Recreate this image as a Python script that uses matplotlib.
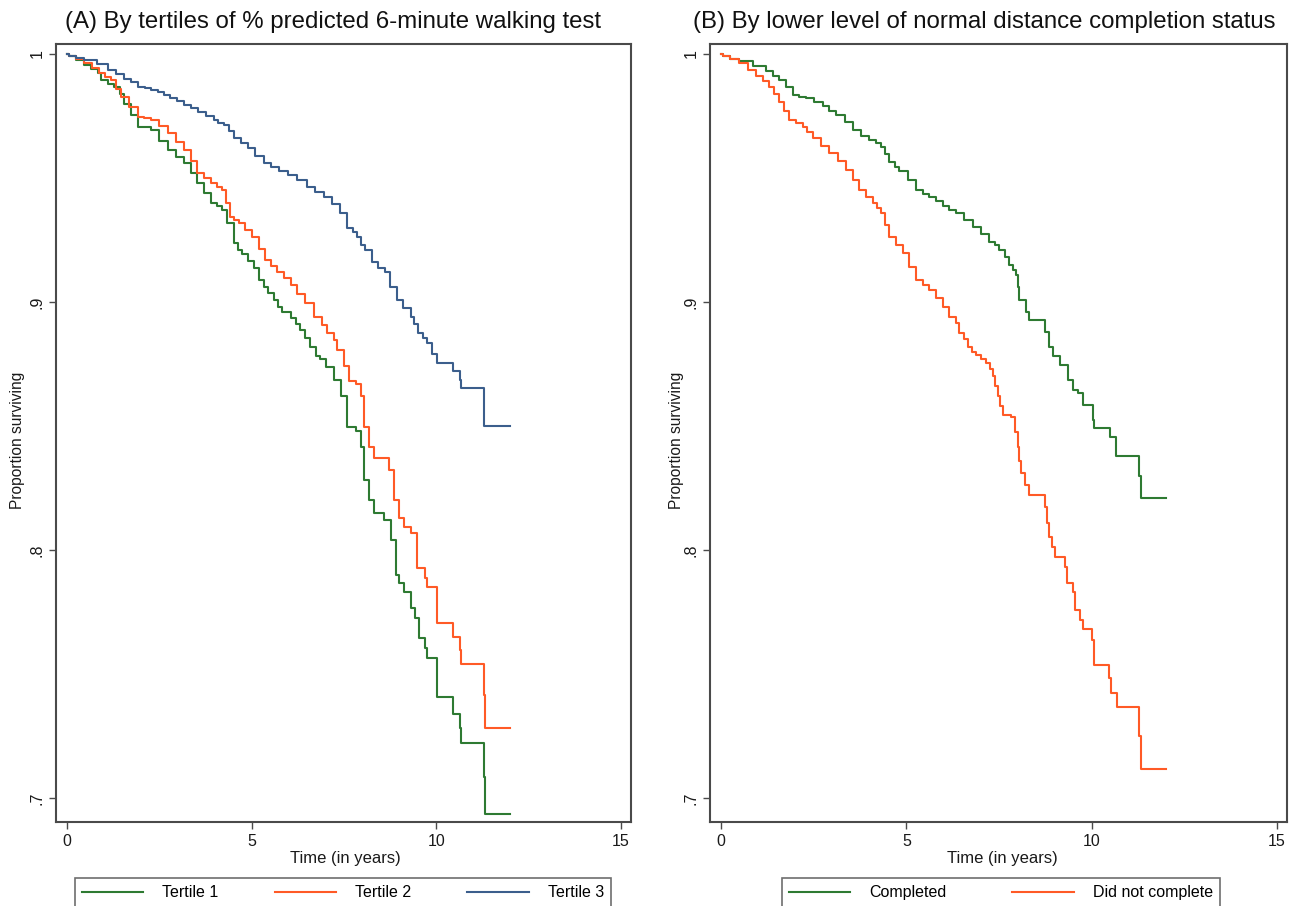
import matplotlib
matplotlib.use("Agg")
import matplotlib.pyplot as plt

plt.rcParams['font.family'] = ['Liberation Sans', 'DejaVu Sans']

# ---------------- data ----------------
titles = ["(A) By tertiles of % predicted 6-minute walking test",
          "(B) By lower level of normal distance completion status"]
x_label = "Time (in years)"
y_label = "Proportion surviving"
x_ticks = [0, 5, 10, 15]
y_ticks = [0.7, 0.8, 0.9, 1.0]
y_tick_labels = [".7", ".8", ".9", "1"]

labels_a = ["Tertile 1", "Tertile 2", "Tertile 3"]
labels_b = ["Completed", "Did not complete"]

t_tert1 = [0, 0.06, 0.25, 0.47, 0.65, 0.83, 0.92, 1.1, 1.28, 1.42, 1.55, 1.73,
           1.91, 2.27, 2.5, 2.72, 2.95, 3.17, 3.35, 3.53, 3.7, 3.89, 4.05, 4.2,
           4.34, 4.52, 4.63, 4.75, 4.9, 5.05, 5.2, 5.33, 5.45, 5.6, 5.72, 5.83,
           6.05, 6.2, 6.32, 6.45, 6.59, 6.73, 6.86, 7.0, 7.22, 7.41, 7.59, 7.81,
           7.95, 8.04, 8.17, 8.3, 8.58, 8.76, 8.92, 9.0, 9.12, 9.3, 9.43, 9.52,
           9.7, 9.75, 10.02, 10.03, 10.46, 10.65, 10.66, 11.28, 11.33, 12.0]
s_tert1 = [1, 0.999, 0.9975, 0.9956, 0.994, 0.9923, 0.9895, 0.988, 0.9868, 0.984,
           0.980, 0.9755, 0.9707, 0.9694, 0.965, 0.9613, 0.9585, 0.956, 0.952,
           0.948, 0.944, 0.940, 0.9385, 0.937, 0.932, 0.9237, 0.921, 0.9195,
           0.9165, 0.9135, 0.909, 0.906, 0.9035, 0.9008, 0.898, 0.896, 0.8935,
           0.891, 0.8887, 0.8855, 0.882, 0.878, 0.877, 0.8739, 0.8685, 0.862,
           0.8497, 0.848, 0.8417, 0.8282, 0.820, 0.815, 0.812, 0.804, 0.790,
           0.7867, 0.783, 0.7766, 0.7725, 0.7645, 0.7605, 0.7565, 0.7456, 0.7407,
           0.734, 0.7282, 0.7222, 0.7086, 0.6935, 0.6935]

t_tert2 = [0, 0.06, 0.25, 0.47, 0.67, 0.87, 1.03, 1.19, 1.33, 1.46, 1.68, 1.91,
           2.08, 2.27, 2.5, 2.72, 2.95, 3.17, 3.35, 3.53, 3.7, 3.89, 4.05, 4.2,
           4.3, 4.4, 4.52, 4.65, 4.82, 5.0, 5.2, 5.37, 5.53, 5.69, 5.87, 6.05,
           6.23, 6.45, 6.68, 6.9, 7.05, 7.23, 7.32, 7.5, 7.63, 7.81, 7.95, 8.04,
           8.17, 8.3, 8.58, 8.72, 8.85, 8.98, 9.12, 9.3, 9.48, 9.7, 9.75, 10.02,
           10.03, 10.46, 10.65, 10.66, 11.28, 11.33, 12.0]
s_tert2 = [1, 0.999, 0.9978, 0.9962, 0.9942, 0.9922, 0.9905, 0.9895, 0.986,
           0.9828, 0.9785, 0.9747, 0.974, 0.9734, 0.971, 0.968, 0.9645, 0.9613,
           0.957, 0.952, 0.950, 0.948, 0.9465, 0.945, 0.940, 0.9344, 0.933,
           0.9317, 0.929, 0.9263, 0.9215, 0.917, 0.9145, 0.912, 0.9095, 0.9068,
           0.903, 0.8995, 0.894, 0.8905, 0.8874, 0.8847, 0.8806, 0.874, 0.868,
           0.867, 0.862, 0.8497, 0.8417, 0.837, 0.837, 0.8323, 0.820, 0.8128,
           0.8094, 0.8067, 0.7926, 0.7886, 0.785, 0.7758, 0.7707, 0.765, 0.7597,
           0.754, 0.7415, 0.7281, 0.7281]

t_tert3 = [0, 0.06, 0.25, 0.47, 0.8, 1.1, 1.33, 1.55, 1.73, 1.91, 2.1, 2.27,
           2.45, 2.63, 2.8, 2.99, 3.17, 3.35, 3.55, 3.75, 3.97, 4.1, 4.24, 4.38,
           4.51, 4.7, 4.89, 5.1, 5.32, 5.52, 5.75, 5.97, 6.22, 6.5, 6.72, 6.95,
           7.17, 7.4, 7.59, 7.73, 7.86, 7.97, 8.08, 8.27, 8.43, 8.6, 8.75, 8.93,
           9.1, 9.3, 9.4, 9.51, 9.63, 9.75, 9.88, 10.02, 10.46, 10.65, 10.66,
           11.28, 11.3, 12.0]
s_tert3 = [1, 0.9993, 0.9985, 0.9976, 0.9958, 0.9935, 0.9918, 0.990, 0.9885,
           0.9868, 0.9862, 0.9855, 0.9845, 0.9835, 0.9822, 0.981, 0.9795, 0.978,
           0.9765, 0.975, 0.9734, 0.9723, 0.9713, 0.969, 0.966, 0.964, 0.962,
           0.959, 0.956, 0.9545, 0.9528, 0.951, 0.949, 0.9465, 0.9445, 0.9425,
           0.9395, 0.936, 0.930, 0.928, 0.926, 0.923, 0.921, 0.916, 0.9135,
           0.912, 0.906, 0.9008, 0.8975, 0.894, 0.891, 0.8875, 0.8855, 0.8834,
           0.879, 0.8754, 0.872, 0.8686, 0.8653, 0.858, 0.85, 0.85]

t_comp = [0, 0.04, 0.25, 0.49, 0.85, 1.21, 1.4, 1.57, 1.75, 1.93, 2.1, 2.29, 2.5,
          2.74, 2.92, 3.1, 3.33, 3.55, 3.78, 4.0, 4.17, 4.32, 4.43, 4.54, 4.68,
          4.81, 5.03, 5.26, 5.45, 5.62, 5.8, 5.98, 6.16, 6.34, 6.56, 6.79, 7.0,
          7.24, 7.38, 7.51, 7.65, 7.78, 7.88, 7.97, 8.01, 8.05, 8.23, 8.32, 8.73,
          8.86, 8.95, 9.14, 9.36, 9.49, 9.63, 9.76, 10.04, 10.05, 10.49, 10.65,
          10.66, 11.28, 11.34, 12.0]
s_comp = [1, 0.999, 0.998, 0.9973, 0.995, 0.993, 0.991, 0.9895, 0.9865, 0.9835,
          0.9828, 0.9821, 0.9805, 0.9788, 0.977, 0.9754, 0.9725, 0.9694, 0.967,
          0.9653, 0.964, 0.9626, 0.9595, 0.9566, 0.9545, 0.9526, 0.949, 0.945,
          0.9435, 0.9425, 0.9405, 0.9385, 0.937, 0.9358, 0.933, 0.9304, 0.9275,
          0.9243, 0.9228, 0.921, 0.918, 0.915, 0.913, 0.911, 0.906, 0.9008,
          0.8961, 0.8927, 0.888, 0.882, 0.878, 0.8746, 0.8686, 0.8645, 0.8632,
          0.8585, 0.8524, 0.849, 0.8457, 0.8417, 0.838, 0.830, 0.8211, 0.8211]

t_notc = [0, 0.04, 0.25, 0.49, 0.72, 0.94, 1.12, 1.3, 1.44, 1.57, 1.7, 1.84,
          2.02, 2.2, 2.33, 2.47, 2.7, 2.92, 3.15, 3.37, 3.55, 3.73, 3.91, 4.09,
          4.2, 4.32, 4.43, 4.54, 4.72, 4.9, 5.08, 5.26, 5.44, 5.62, 5.8, 5.98,
          6.16, 6.34, 6.43, 6.55, 6.66, 6.77, 6.88, 7.0, 7.15, 7.25, 7.33, 7.4,
          7.47, 7.53, 7.6, 7.83, 7.92, 8.01, 8.05, 8.1, 8.2, 8.32, 8.73, 8.8,
          8.86, 8.93, 9.0, 9.27, 9.32, 9.5, 9.54, 9.68, 9.76, 10.02, 10.05,
          10.47, 10.53, 10.67, 11.28, 11.34, 12.0]
s_notc = [1, 0.999, 0.9978, 0.9962, 0.9935, 0.9909, 0.989, 0.9868, 0.984, 0.9808,
          0.977, 0.9734, 0.972, 0.9707, 0.9685, 0.966, 0.963, 0.96, 0.9568,
          0.9532, 0.9492, 0.9452, 0.9425, 0.9398, 0.938, 0.9358, 0.931, 0.9263,
          0.923, 0.9196, 0.914, 0.9089, 0.907, 0.9048, 0.9015, 0.8981, 0.894,
          0.8914, 0.8874, 0.885, 0.882, 0.880, 0.8786, 0.877, 0.8753, 0.873,
          0.870, 0.866, 0.862, 0.858, 0.8544, 0.8538, 0.8477, 0.8417, 0.836,
          0.831, 0.826, 0.8222, 0.8175, 0.811, 0.8054, 0.801, 0.7973, 0.7933,
          0.7866, 0.7832, 0.7758, 0.7718, 0.768, 0.7637, 0.7536, 0.7483, 0.7425,
          0.7368, 0.7248, 0.7116, 0.7116]

GREEN = "#2e7a32"
ORANGE = "#ff5a26"
BLUE = "#3b5e8c"
FRAME = "#4a4a4a"

W, H = 1301, 906
fig = plt.figure(figsize=(W / 100, H / 100), dpi=100)
fig.patch.set_facecolor("white")


def fx(px):
    return px / W


def fy(py):
    return 1 - py / H


ax_a = fig.add_axes([fx(56), fy(822), fx(631) - fx(56), fy(44) - fy(822)])
ax_b = fig.add_axes([fx(710), fy(822), fx(1287) - fx(710), fy(44) - fy(822)])

series_a = [(t_tert1, s_tert1, GREEN, labels_a[0]),
            (t_tert2, s_tert2, ORANGE, labels_a[1]),
            (t_tert3, s_tert3, BLUE, labels_a[2])]
series_b = [(t_comp, s_comp, GREEN, labels_b[0]),
            (t_notc, s_notc, ORANGE, labels_b[1])]

FS = 11.5
for ax, series in [(ax_a, series_a), (ax_b, series_b)]:
    for t, s, c, lab in series:
        ax.plot(t, s, drawstyle="steps-post", color=c, lw=1.5, label=lab)
    ax.set_xlim(-0.3, 15.27)
    ax.set_ylim(0.6903, 1.004)
    ax.set_xticks(x_ticks)
    ax.set_xticklabels([str(v) for v in x_ticks])
    ax.set_yticks(y_ticks)
    ax.set_yticklabels(y_tick_labels, rotation=90, va="center")
    ax.tick_params(axis="both", direction="out", length=5, width=1.0,
                   color=FRAME, labelsize=FS, labelcolor="#1a1a1a")
    ax.tick_params(axis="x", pad=4)
    ax.tick_params(axis="y", pad=3)
    for sp in ax.spines.values():
        sp.set_color(FRAME)
        sp.set_linewidth(1.5)

# titles and axis labels
TFS = 17.3
fig.text(fx(333), fy(22), titles[0], ha="center", va="center", fontsize=TFS, color="#111111")
fig.text(fx(984), fy(22), titles[1], ha="center", va="center", fontsize=TFS, color="#111111")
fig.text(fx(345), fy(858), x_label, ha="center", va="center", fontsize=12, color="#1a1a1a")
fig.text(fx(1002), fy(858), x_label, ha="center", va="center", fontsize=12, color="#1a1a1a")
fig.text(fx(18), fy(440), y_label, ha="center", va="center", rotation=90, fontsize=11.2, color="#1a1a1a")
fig.text(fx(676), fy(440), y_label, ha="center", va="center", rotation=90, fontsize=11.2, color="#1a1a1a")

# legends
for ax, cx, colsp in [(ax_a, 343, 3.5), (ax_b, 1001, 4.1)]:
    h, l = ax.get_legend_handles_labels()
    leg = fig.legend(h, l, loc="upper center", bbox_to_anchor=(fx(cx), fy(878)),
                     ncol=len(l), frameon=True, fancybox=False, fontsize=FS,
                     handlelength=3.85, handletextpad=1.2, columnspacing=colsp,
                     borderpad=0.45, borderaxespad=0)
    leg.get_frame().set_edgecolor(FRAME)
    leg.get_frame().set_linewidth(1.2)
    for line in leg.get_lines():
        line.set_linewidth(1.5)

fig.savefig("out.png", dpi=100, facecolor="white")
